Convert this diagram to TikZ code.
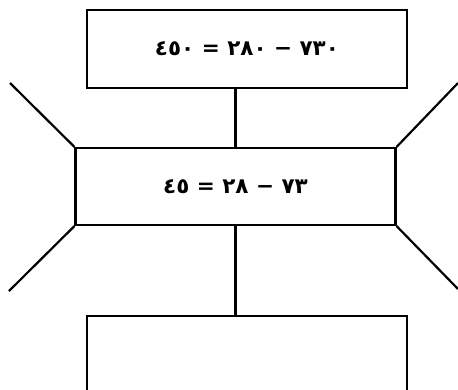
\documentclass[tikz,border=0pt]{standalone}
\usepackage{fontspec}
\TeXXeTstate=1
\newfontfamily\arabicfont[Script=Arabic]{DejaVu Sans}
\usepackage{tikz}
\usetikzlibrary{positioning,calc}

\begin{document}
\begin{tikzpicture}[
  x=1pt,y=-1pt,line width=2.2pt,
  font=\arabicfont\bfseries\fontsize{21.5}{24}\selectfont,
  box/.style={draw,fill=white,minimum width=320pt,minimum height=78pt,inner sep=0pt},
]
\useasboundingbox (0,0) rectangle (458,389);
\clip (0,0) rectangle (458,389);
% boxes
\node[box] (top) at (247,49) {\beginR\beginL ٧٣٠\endL{} − \beginL ٢٨٠\endL{} = \beginL ٤٥٠\endL\endR};
\node[box,minimum height=77pt] (mid) at (235.5,186.5) {\beginR\beginL ٧٣\endL{} − \beginL ٢٨\endL{} = \beginL ٤٥\endL\endR};
\node[box,minimum height=84pt] (bot) at (247,358) {};
% links between boxes
\draw (mid.north) -- (mid.north |- top.south);
\draw (mid.south) -- (mid.south |- bot.north);
% side rays
\coordinate (ul) at (10,83);
\coordinate (ur) at (458,83);
\coordinate (ll) at (9,291);
\coordinate (lr) at (458,289);
\draw (mid.north west) -- (ul);
\draw (mid.north east) -- (ur);
\draw (mid.south west) -- (ll);
\draw (mid.south east) -- (lr);
\end{tikzpicture}
\end{document}
